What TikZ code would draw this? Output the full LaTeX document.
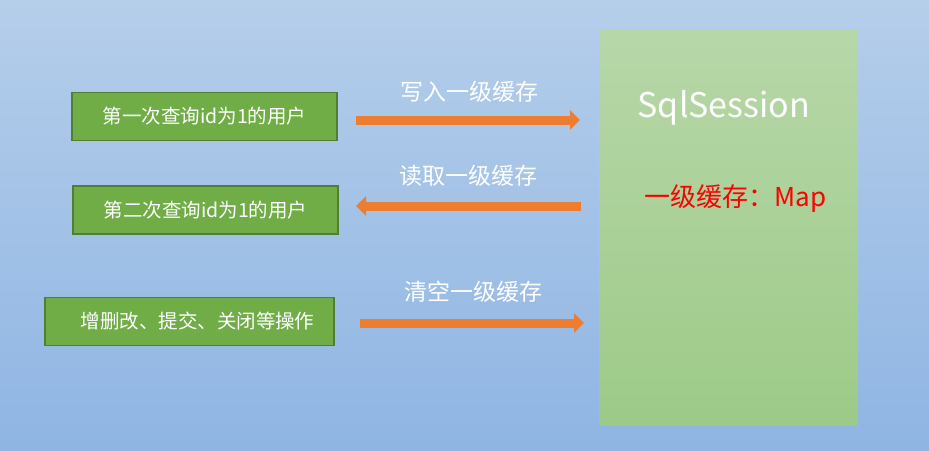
\documentclass[tikz,border=0pt]{standalone}
\usepackage{fontspec}
\setmainfont{Noto Sans CJK SC}
\usetikzlibrary{arrows.meta}

\definecolor{bgtop}{RGB}{181,206,234}
\definecolor{bgbot}{RGB}{143,181,227}
\definecolor{sesstop}{RGB}{183,215,168}
\definecolor{sessbot}{RGB}{157,202,136}
\definecolor{opfill}{RGB}{112,173,71}
\definecolor{opline}{RGB}{80,126,50}
\definecolor{flow}{RGB}{237,125,49}

\begin{document}
\begin{tikzpicture}[x=1pt, y=-1pt,
    op/.style={draw=opline, line width=1.5pt, fill=opfill, text=white,
        font=\fontsize{19.5}{22}\selectfont, minimum height=48pt, inner sep=0pt},
    flowline/.style={draw=flow, line width=9pt, -{Triangle[width=19pt,length=10pt]}},
    flowlabel/.style={text=white, font=\fontsize{23}{26}\selectfont}]
    \useasboundingbox (0,0) rectangle (929,450);
    \shade[top color=bgtop, bottom color=bgbot] (0,0) rectangle (929,450);

    % session box
    \node[top color=sesstop, bottom color=sessbot, minimum width=258pt,
        minimum height=395pt, inner sep=0pt] (sess) at (728.5,227.5) {};
    \node[anchor=base, text=white, font=\fontsize{34}{38}\selectfont] (name) at (724,117) {SqlSession};
    \node[anchor=base, text=red, font=\fontsize{26}{29}\selectfont] (map) at (735.5,206) {一级缓存：Map};

    % operations
    \node[op, minimum width=265pt] (q1) at (204.5,116.5) {第一次查询id为1的用户};
    \node[op, minimum width=265pt] (q2) at (205.5,210) {第二次查询id为1的用户};
    \node[op, minimum width=289pt] (q3) at (189.5,321.5) {\hspace{16pt}增删改、提交、关闭等操作};

    % arrows
    \coordinate (w1) at (356,120);
    \coordinate (w2) at (580,120);
    \coordinate (r1) at (581,206);
    \coordinate (r2) at (356,206);
    \coordinate (c1) at (360,323);
    \coordinate (c2) at (584,323);
    \draw[flowline] (w1) -- (w2);
    \draw[flowline] (r1) -- (r2);
    \draw[flowline] (c1) -- (c2);

    \node[flowlabel] (wl) at (469,92) {写入一级缓存};
    \node[flowlabel] (rl) at (468.5,176) {读取一级缓存};
    \node[flowlabel] (cl) at (473.5,292) {清空一级缓存};
\end{tikzpicture}
\end{document}
